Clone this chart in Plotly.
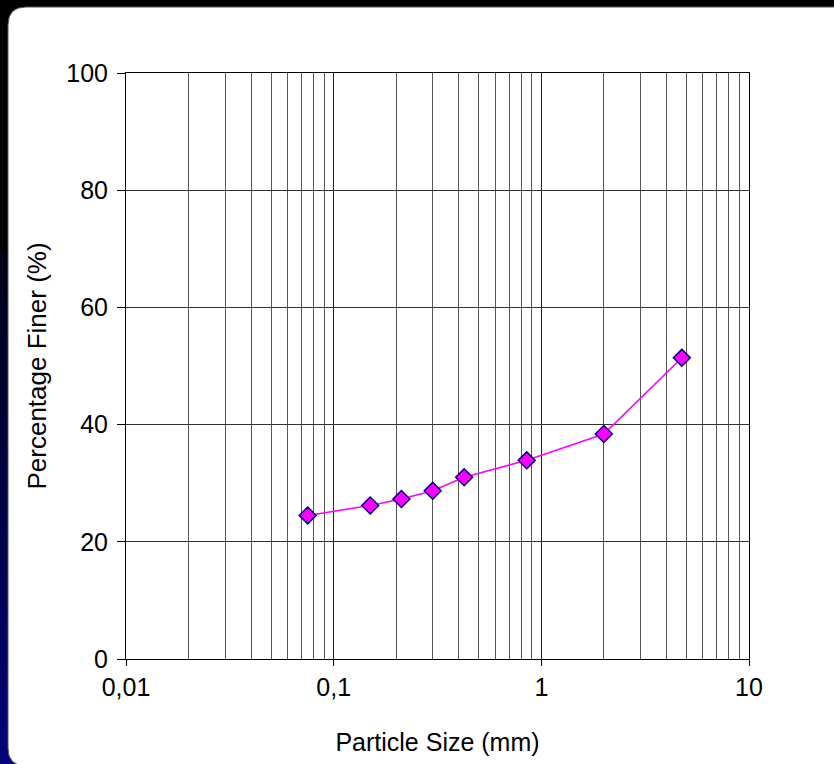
import plotly.graph_objects as go

# Sieve analysis: particle size (mm) vs. percentage finer (%)
particle_size = [0.075, 0.15, 0.212, 0.3, 0.425, 0.85, 2.0, 4.75]
percent_finer = [24.5, 26.2, 27.3, 28.7, 31.0, 33.9, 38.4, 51.4]

x_tick_vals = [0.01, 0.1, 1, 10]
x_tick_text = ["0,01", "0,1", "1", "10"]
y_tick_vals = [0, 20, 40, 60, 80, 100]

W, H = 834, 764
L, R, T, B = 126, 85, 73, 105
PW, PH = W - L - R, H - T - B


def px(x):
    return (x - L) / PW


def py(y):
    return (H - B - y) / PH


minor_vals = [m * 10 ** e for e in (-2, -1, 0) for m in range(2, 10)]

fig = go.Figure()
fig.add_trace(go.Scatter(
    x=particle_size, y=percent_finer, mode="lines+markers",
    line=dict(color="#FF00FF", width=1.6),
    marker=dict(symbol="diamond", size=13, color="#FF00FF",
                line=dict(color="#000080", width=1.5)),
    showlegend=False,
))

shapes = []
# dark blue backdrop along the left edge
n = 24
y0, y1 = 250, 770
for i in range(n):
    t = (i + 1) / n
    c = f"rgb({int(4*t)},{int(4*t)},{int(20 + 100*t)})"
    ya = y0 + (y1 - y0) * i / n
    yb = y0 + (y1 - y0) * (i + 1) / n + 1
    shapes.append(dict(type="rect", xref="paper", yref="paper", layer="below",
                       x0=px(-5), x1=px(20), y0=py(yb), y1=py(ya),
                       line=dict(width=0), fillcolor=c))
# white rounded panel
r = 18
xl, xr, yt, yb = 8, 860, 7, 766
path = (f"M {px(xl)},{py(yt + r)} "
        f"Q {px(xl)},{py(yt)} {px(xl + r)},{py(yt)} "
        f"L {px(xr)},{py(yt)} L {px(xr)},{py(yb)} "
        f"L {px(xl + r)},{py(yb)} "
        f"Q {px(xl)},{py(yb)} {px(xl)},{py(yb - r)} Z")
shapes.append(dict(type="path", xref="paper", yref="paper", layer="below",
                   path=path, fillcolor="white",
                   line=dict(color="#555555", width=1)))

fig.update_layout(
    width=W, height=H,
    margin=dict(l=L, r=R, t=T, b=B),
    paper_bgcolor="black", plot_bgcolor="white",
    font=dict(family="Liberation Sans, Arial", size=25, color="black"),
    shapes=shapes,
    xaxis=dict(
        type="log", range=[-2, 1],
        tickvals=x_tick_vals, ticktext=x_tick_text,
        ticks="outside", ticklen=6, tickcolor="black",
        showgrid=True, gridcolor="#222222", gridwidth=1,
        minor=dict(tickvals=minor_vals, showgrid=True,
                   gridcolor="#555555", gridwidth=1, ticks=""),
        showline=True, linecolor="black", linewidth=1, mirror=True,
        zeroline=False,
        title=dict(text="Particle Size (mm)", font=dict(size=25), standoff=33),
    ),
    yaxis=dict(
        range=[0, 100], tickvals=y_tick_vals,
        ticks="outside", ticklen=8, tickcolor="black",
        ticklabelstandoff=4,
        showgrid=True, gridcolor="#333333", gridwidth=1,
        showline=True, linecolor="black", linewidth=1, mirror=True,
        zeroline=False,
        title=dict(text="Percentage Finer (%)", font=dict(size=26), standoff=12),
    ),
)

fig.write_html("out.html")
